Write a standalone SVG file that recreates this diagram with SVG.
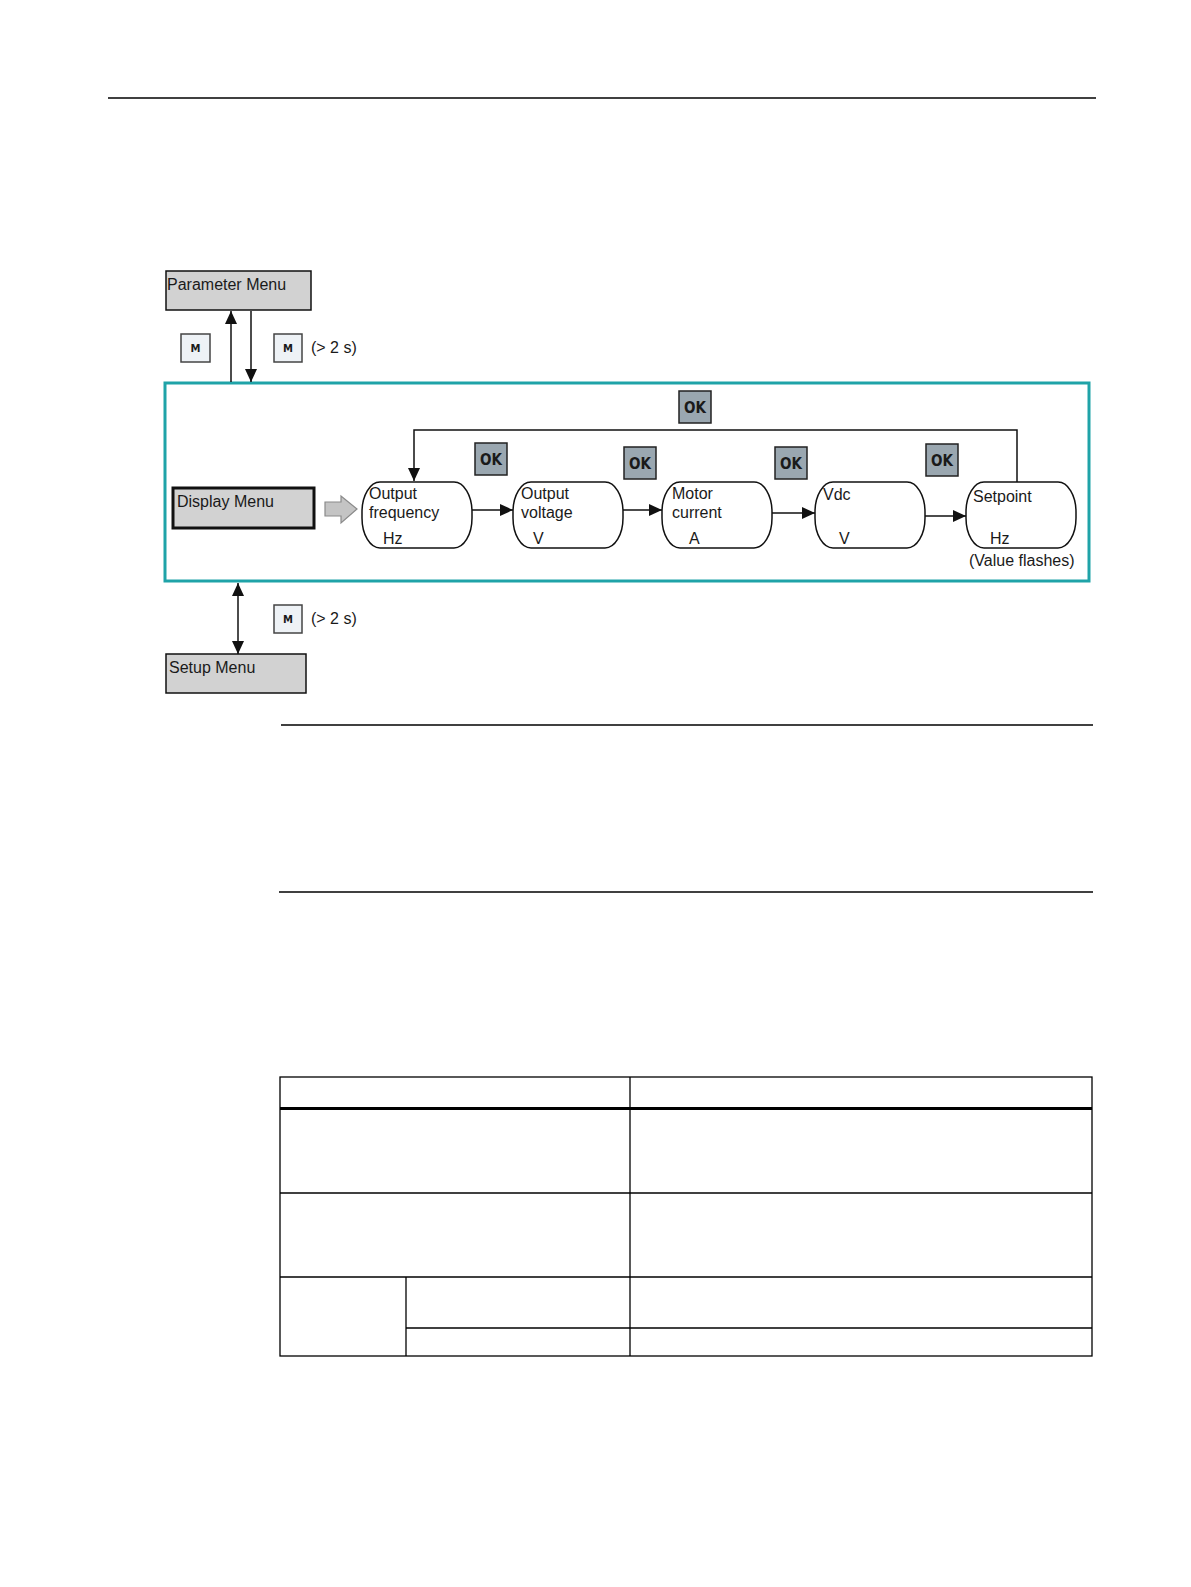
<svg xmlns="http://www.w3.org/2000/svg" width="1191" height="1587" viewBox="0 0 1191 1587">
<style>
  text { font-family: "Liberation Sans", Arial, sans-serif; font-size: 16px; fill: #1a1a1a; }
  .menu { fill: #d2d2d2; stroke: #111; stroke-width: 1.5; }
  .mbtn { fill: #eef2f6; stroke: #444; stroke-width: 1.5; }
  .mtxt { font-family: "DejaVu Sans", sans-serif; font-size: 10px; font-weight: bold; text-anchor: middle; }
  .okbtn { fill: #9aa7b0; stroke: #222; stroke-width: 1.5; }
  .oktxt { font-family: "DejaVu Sans Condensed", "DejaVu Sans", sans-serif; font-size: 15px; font-weight: bold; text-anchor: middle; }
  .node { fill: #fff; stroke: #111; stroke-width: 1.5; }
  .conn { fill: none; stroke: #111; stroke-width: 1.5; }
  .rule { stroke: #000; stroke-width: 1.3; }
  .tbl { stroke: #000; stroke-width: 1.3; fill: none; }
</style>
<defs>
  <marker id="ah" viewBox="0 0 13 12" refX="13" refY="6" markerWidth="13" markerHeight="12" markerUnits="userSpaceOnUse" orient="auto">
    <path d="M0,0 L13,6 L0,12 Z" fill="#111"/>
  </marker>
  <marker id="ahs" viewBox="0 0 13 12" refX="13" refY="6" markerWidth="13" markerHeight="12" markerUnits="userSpaceOnUse" orient="auto-start-reverse">
    <path d="M0,0 L13,6 L0,12 Z" fill="#111"/>
  </marker>
</defs>

<line class="rule" x1="108" y1="98" x2="1096" y2="98"/>

<g id="parameter-menu">
  <rect class="menu" x="166" y="271" width="145" height="39"/>
  <text x="167" y="290">Parameter Menu</text>
</g>

<g id="m-btn-1">
  <rect class="mbtn" x="181" y="334" width="29" height="28"/>
  <text class="mtxt" x="195.5" y="352">M</text>
</g>
<g id="m-btn-2">
  <rect class="mbtn" x="274" y="334" width="28" height="28"/>
  <text class="mtxt" x="288" y="352">M</text>
  <text x="311" y="353">(&gt; 2 s)</text>
</g>

<g id="display-frame">
  <rect x="165" y="383" width="924" height="198" fill="none" stroke="#1fa3a8" stroke-width="3"/>
</g>

<g id="display-menu">
  <rect x="173" y="488" width="141" height="40" fill="#d2d2d2" stroke="#111" stroke-width="3"/>
  <text x="177" y="507">Display Menu</text>
</g>

<g id="block-arrow">
  <path d="M325,502 L341,502 L341,496 L357,509 L341,523 L341,516 L325,516 Z" fill="#c4c4c4" stroke="#8a8a8a" stroke-width="1.2"/>
</g>

<g id="node-output-frequency">
  <rect class="node" x="362" y="482" width="110" height="66" rx="18" ry="30"/>
  <text x="369" y="499">Output</text>
  <text x="369" y="518">frequency</text>
  <text x="383" y="544">Hz</text>
</g>
<g id="node-output-voltage">
  <rect class="node" x="513" y="482" width="110" height="66" rx="18" ry="30"/>
  <text x="521" y="499">Output</text>
  <text x="521" y="518">voltage</text>
  <text x="533" y="544">V</text>
</g>
<g id="node-motor-current">
  <rect class="node" x="662" y="482" width="110" height="66" rx="18" ry="30"/>
  <text x="672" y="499">Motor</text>
  <text x="672" y="518">current</text>
  <text x="689" y="544">A</text>
</g>
<g id="node-vdc">
  <rect class="node" x="815" y="482" width="110" height="66" rx="18" ry="30"/>
  <text x="823" y="500">Vdc</text>
  <text x="839" y="544">V</text>
</g>
<g id="node-setpoint">
  <rect class="node" x="966" y="482" width="110" height="66" rx="18" ry="30"/>
  <text x="973" y="502">Setpoint</text>
  <text x="990" y="544">Hz</text>
  <text x="969" y="566">(Value flashes)</text>
</g>

<g id="ok-top"><rect class="okbtn" x="679" y="391" width="32" height="32"/><text class="oktxt" x="695" y="413">OK</text></g>
<g id="ok-1"><rect class="okbtn" x="475" y="443" width="32" height="32"/><text class="oktxt" x="491" y="465">OK</text></g>
<g id="ok-2"><rect class="okbtn" x="624" y="447" width="32" height="32"/><text class="oktxt" x="640" y="469">OK</text></g>
<g id="ok-3"><rect class="okbtn" x="775" y="447" width="32" height="32"/><text class="oktxt" x="791" y="469">OK</text></g>
<g id="ok-4"><rect class="okbtn" x="926" y="444" width="32" height="32"/><text class="oktxt" x="942" y="466">OK</text></g>

<g id="m-btn-3">
  <rect class="mbtn" x="274" y="605" width="28" height="28"/>
  <text class="mtxt" x="288" y="623">M</text>
  <text x="311" y="624">(&gt; 2 s)</text>
</g>

<g id="setup-menu">
  <rect class="menu" x="166" y="654" width="140" height="39"/>
  <text x="169" y="673">Setup Menu</text>
</g>

<g id="connectors">
  <line class="conn" x1="231" y1="382" x2="231" y2="311" marker-end="url(#ah)"/>
  <line class="conn" x1="251" y1="311" x2="251" y2="382" marker-end="url(#ah)"/>
  <line class="conn" x1="472" y1="510" x2="513" y2="510" marker-end="url(#ah)"/>
  <line class="conn" x1="623" y1="510" x2="662" y2="510" marker-end="url(#ah)"/>
  <line class="conn" x1="772" y1="513" x2="815" y2="513" marker-end="url(#ah)"/>
  <line class="conn" x1="925" y1="516" x2="966" y2="516" marker-end="url(#ah)"/>
  <polyline class="conn" points="1017,482 1017,430 414,430 414,481" marker-end="url(#ah)"/>
  <line class="conn" x1="238" y1="583" x2="238" y2="654" marker-start="url(#ahs)" marker-end="url(#ah)"/>
</g>

<line class="rule" x1="281" y1="725" x2="1093" y2="725"/>
<line class="rule" x1="279" y1="892" x2="1093" y2="892"/>

<g id="table">
  <rect class="tbl" x="280" y="1077" width="812" height="279"/>
  <line x1="280" y1="1108.5" x2="1092" y2="1108.5" stroke="#000" stroke-width="3"/>
  <line class="tbl" x1="630" y1="1077" x2="630" y2="1356"/>
  <line class="tbl" x1="280" y1="1193" x2="1092" y2="1193"/>
  <line class="tbl" x1="280" y1="1277" x2="1092" y2="1277"/>
  <line class="tbl" x1="406" y1="1277" x2="406" y2="1356"/>
  <line class="tbl" x1="406" y1="1328" x2="1092" y2="1328"/>
</g>
</svg>
